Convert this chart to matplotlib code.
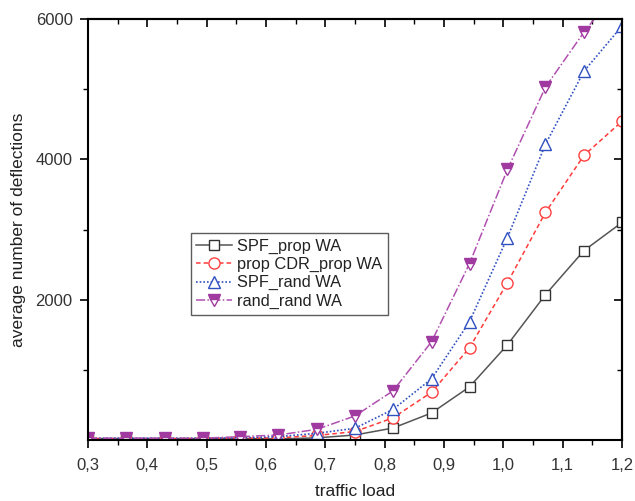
import matplotlib
matplotlib.use("Agg")
import matplotlib.pyplot as plt
from matplotlib.ticker import MultipleLocator, FuncFormatter

plt.rcParams['font.family'] = ['Liberation Sans', 'DejaVu Sans']

x = [0.3, 0.364, 0.429, 0.493, 0.557, 0.621, 0.686, 0.75, 0.814, 0.879, 0.943, 1.007, 1.071, 1.136, 1.2]
spf_prop = [20, 20, 20, 20, 20, 15, 30, 71, 170, 385, 757, 1357, 2071, 2700, 3100]
cdr_prop = [20, 20, 20, 20, 25, 30, 65, 120, 315, 680, 1314, 2243, 3243, 4057, 4543]
spf_rand = [25, 25, 25, 25, 30, 48, 95, 167, 435, 871, 1686, 2886, 4214, 5257, 5900]
rand_rand = [25, 25, 25, 25, 48, 71, 152, 343, 700, 1400, 2514, 3857, 5029, 5814, 6500]

labels = ['SPF_prop WA', 'prop CDR_prop WA', 'SPF_rand WA', 'rand_rand WA']

fig = plt.figure(figsize=(6.35, 5.01), dpi=100)
ax = fig.add_axes([0.1386, 0.1218, 0.8409, 0.8402])

ax.plot(x, spf_prop, color='#555555', lw=1.1, ls='-', marker='s', ms=7.5,
        mfc='white', mec='#333333', mew=1.0, label=labels[0])
ax.plot(x, cdr_prop, color='#ff3b3b', lw=1.1, ls=(0, (3, 2)), marker='o', ms=8,
        mfc='white', mec='#ff4040', mew=1.0, label=labels[1])
ax.plot(x, spf_rand, color='#3050c0', lw=1.2, ls=(0, (1, 1.2)), marker='^', ms=8.5,
        mfc='white', mec='#3050c0', mew=1.0, label=labels[2])
ax.plot(x, rand_rand, color='#b050b0', lw=1.1, ls=(0, (6, 1.5, 1, 1.5)), marker='v', ms=8.5,
        fillstyle='top', mfc='#a03aa0', mfcalt='white', mec='#a03aa0', mew=1.0,
        label=labels[3])

ax.set_xlim(0.3, 1.2)
ax.set_ylim(0, 6000)
ax.xaxis.set_major_locator(MultipleLocator(0.1))
ax.xaxis.set_minor_locator(MultipleLocator(0.05))
ax.set_yticks([2000, 4000, 6000])
ax.set_yticks([1000, 3000, 5000], minor=True)
ax.xaxis.set_major_formatter(FuncFormatter(lambda v, p: f"{v:.1f}".replace('.', ',')))

ax.tick_params(axis='both', which='major', labelsize=12, width=1.2, length=6,
               direction='out', top=False, right=False, labelcolor='#333333')
ax.tick_params(axis='x', which='major', pad=7)
ax.tick_params(axis='y', which='major', pad=5)
ax.tick_params(axis='both', which='minor', width=1.0, length=3.5, direction='out')
# inward ticks on top and right
ax2 = ax.secondary_xaxis('top')
ax2.xaxis.set_major_locator(MultipleLocator(0.1))
ax2.xaxis.set_minor_locator(MultipleLocator(0.05))
ax2.tick_params(which='major', direction='in', length=6, width=1.2, labeltop=False)
ax2.tick_params(which='minor', direction='in', length=3.5, width=1.0)
ay2 = ax.secondary_yaxis('right')
ay2.set_yticks([2000, 4000, 6000])
ay2.set_yticks([1000, 3000, 5000], minor=True)
ay2.tick_params(which='major', direction='in', length=6, width=1.2, labelright=False)
ay2.tick_params(which='minor', direction='in', length=3.5, width=1.0)
ax2.spines['top'].set_linewidth(1.5)
ay2.spines['right'].set_linewidth(1.5)

for s in ax.spines.values():
    s.set_linewidth(1.5)

ax.set_xlabel('traffic load', fontsize=12.5, color='#222222', labelpad=8)
ax.set_ylabel('average number of deflections', fontsize=12.5, color='#222222', labelpad=7)

leg = ax.legend(loc='lower left', bbox_to_anchor=(0.192, 0.298), fontsize=11.8,
                frameon=True, fancybox=False, edgecolor='#333333',
                handlelength=2.2, borderpad=0.35, labelspacing=0.2,
                handletextpad=0.3, borderaxespad=0)
leg.get_frame().set_linewidth(1.0)
for t in leg.get_texts():
    t.set_color('#222222')

fig.savefig('out.png', dpi=100)
